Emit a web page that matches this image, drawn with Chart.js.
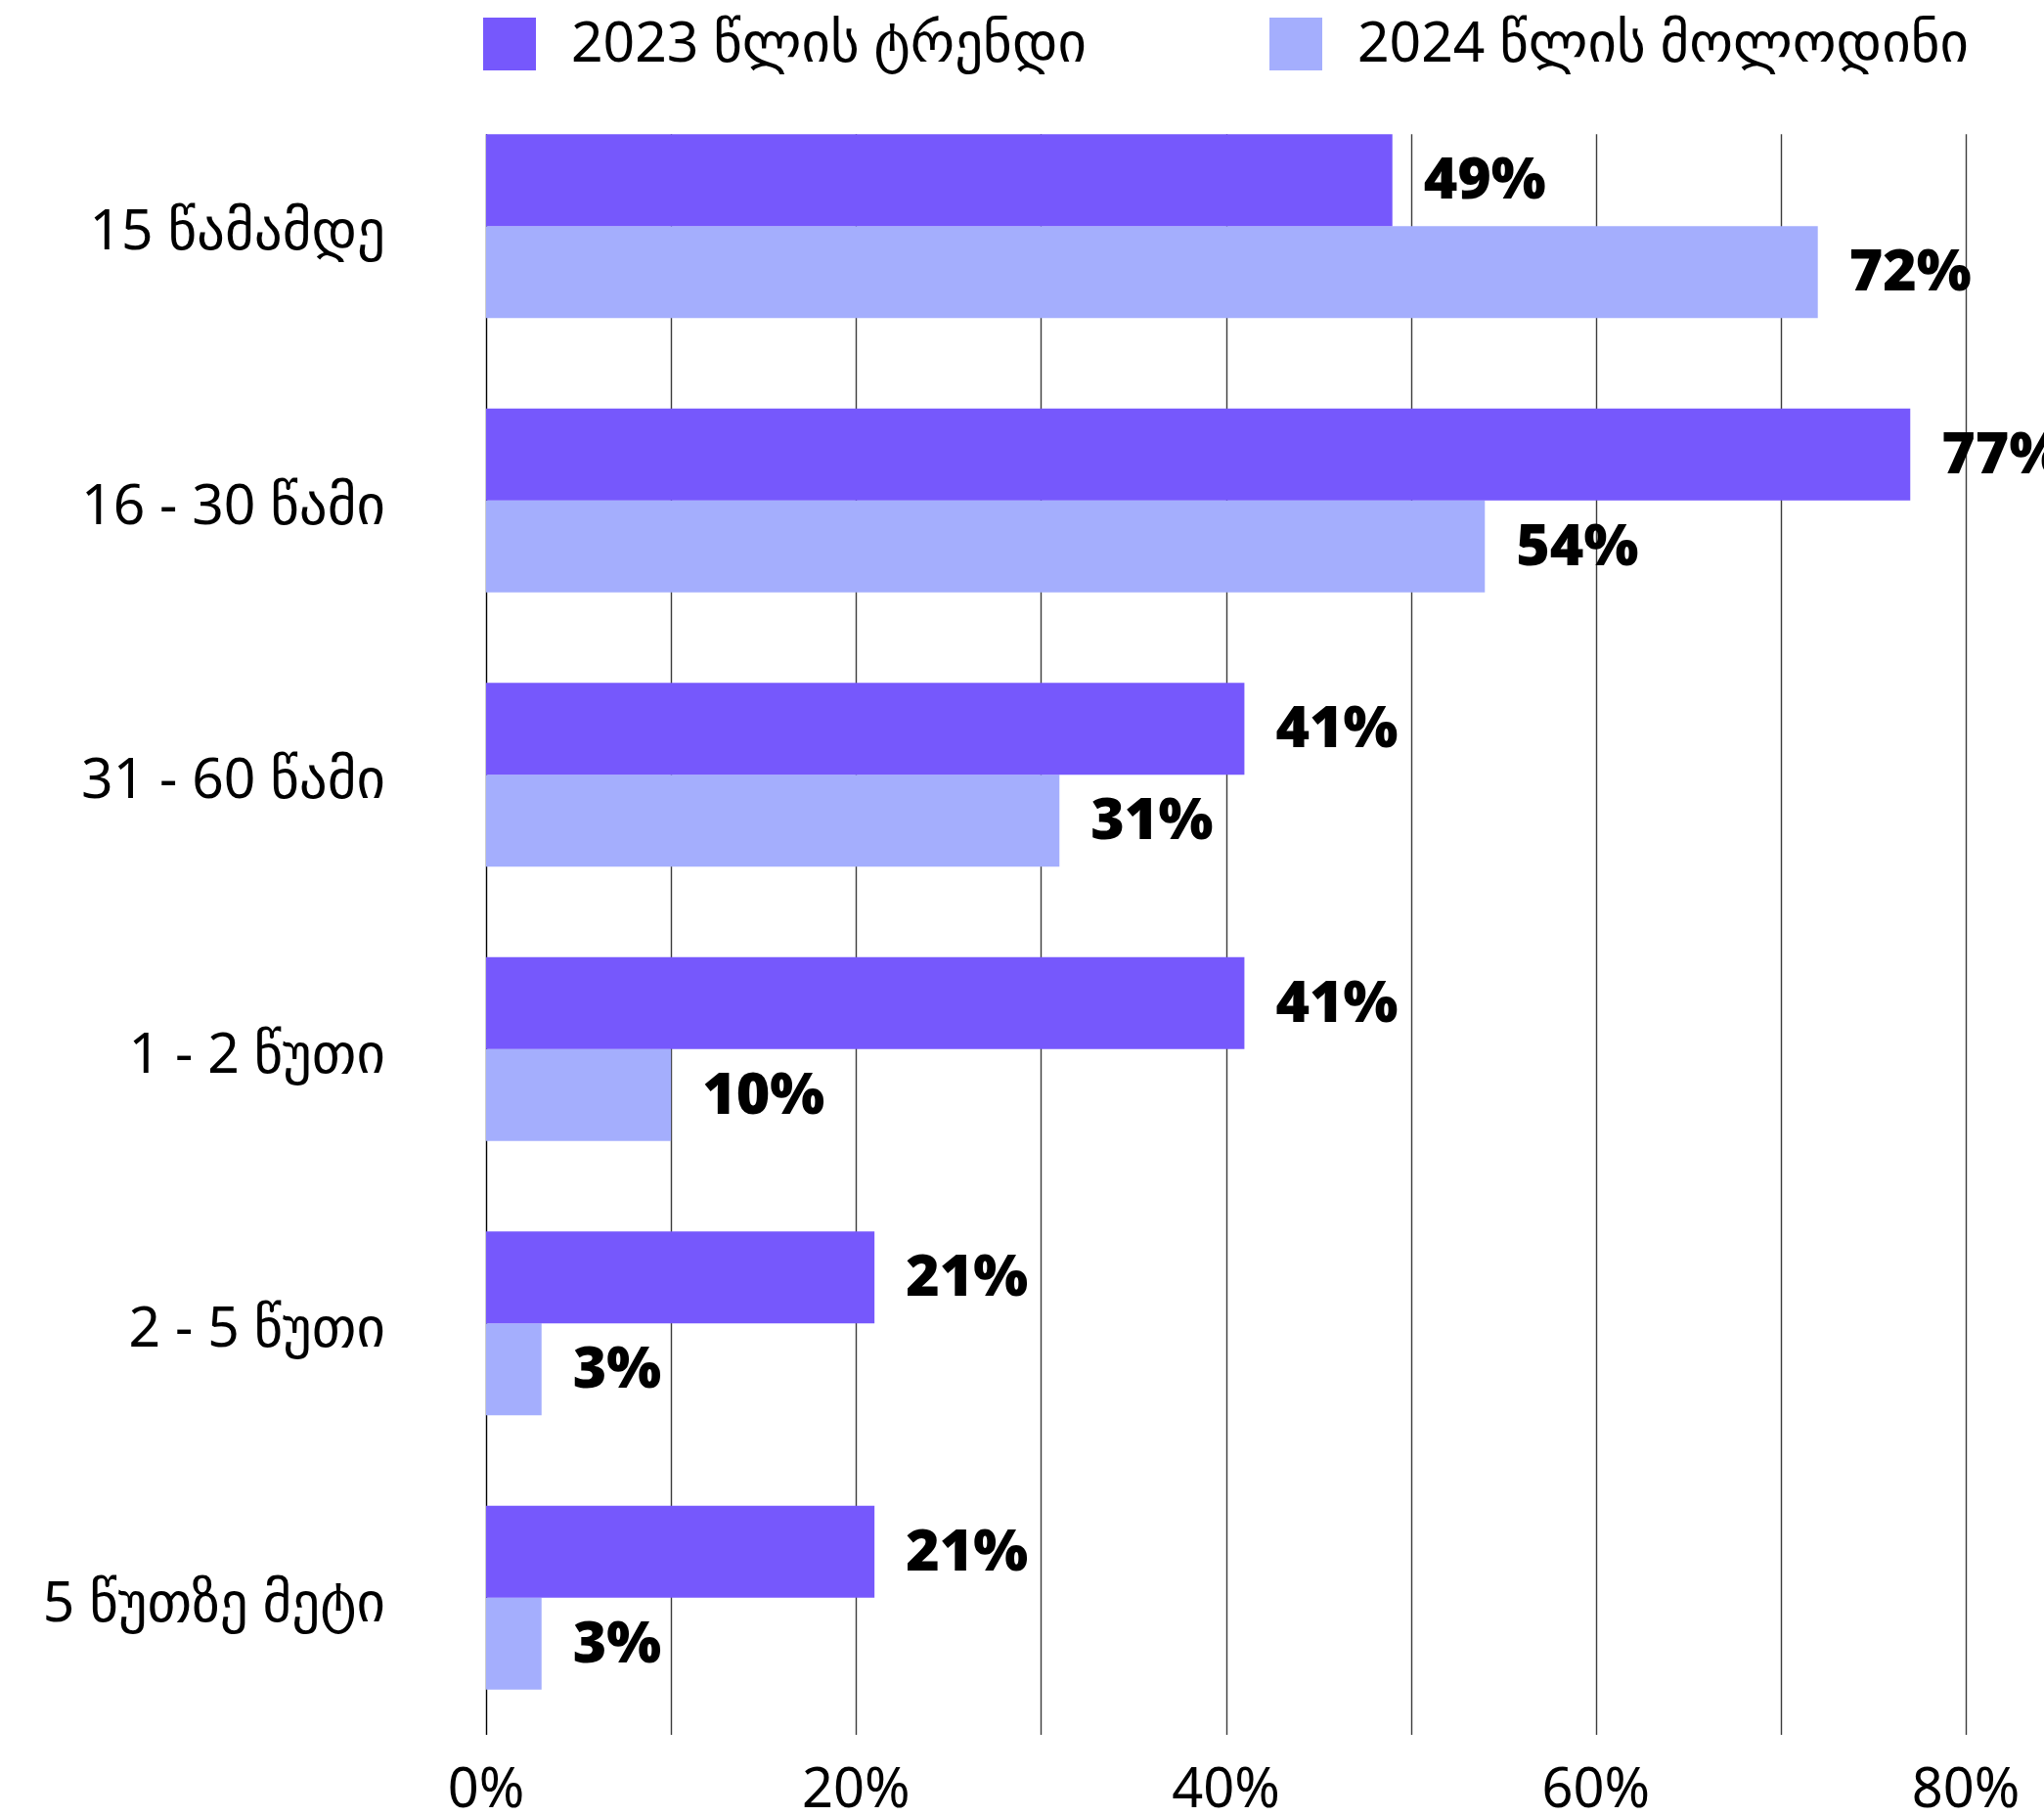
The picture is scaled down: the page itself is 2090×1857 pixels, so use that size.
<!DOCTYPE html>
<html lang="ka">
<head>
<meta charset="utf-8">
<title>ვიდეოს ხანგრძლივობა</title>
<script src="https://cdn.jsdelivr.net/npm/chart.js@4/dist/chart.umd.min.js"></script>
<style>
  html, body { margin: 0; padding: 0; background: #ffffff; }
  #wrap { width: 2090px; height: 1857px; }
</style>
</head>
<body>
<div id="wrap"><canvas id="c" width="2090" height="1857"></canvas></div>
<script>
// Video length buckets
const categories = ['15 წამამდე', '16 - 30 წამი', '31 - 60 წამი', '1 - 2 წუთი', '2 - 5 წუთი', '5 წუთზე მეტი'];
// Share of respondents, %
const trend2023 = [49, 77, 41, 41, 21, 21];
const expect2024 = [72, 54, 31, 10, 3, 3];
const seriesNames = ['2023 წლის ტრენდი', '2024 წლის მოლოდინი'];
const seriesColors = ['#7658FC', '#A4AEFD'];
const xTicks = [0, 10, 20, 30, 40, 50, 60, 70, 80];

const FONT = "'Noto Sans', 'DejaVu Sans', sans-serif";

// Vertical gridlines: from the top of the first bar down to the bottom of the plot
const gridPlugin = {
  id: 'vgrid',
  beforeDatasetsDraw(chart) {
    const { ctx, chartArea, scales } = chart;
    const first = chart.getDatasetMeta(0).data[0];
    const top = first.y - first.height / 2;
    ctx.save();
    xTicks.forEach(v => {
      const x = Math.round(scales.x.getPixelForValue(v)) + 0.5;
      ctx.beginPath();
      ctx.strokeStyle = v === 0 ? '#000000' : '#3c3c3c';
      ctx.lineWidth = 1.4;
      ctx.moveTo(x, top);
      ctx.lineTo(x, chartArea.bottom);
      ctx.stroke();
    });
    ctx.restore();
  }
};

// Value labels at the end of each bar
const valueLabels = {
  id: 'valueLabels',
  afterDatasetsDraw(chart) {
    const { ctx } = chart;
    ctx.save();
    ctx.font = '900 59px ' + FONT;
    ctx.fillStyle = '#000000';
    ctx.textAlign = 'left';
    ctx.textBaseline = 'middle';
    chart.data.datasets.forEach((ds, i) => {
      chart.getDatasetMeta(i).data.forEach((bar, j) => {
        ctx.fillText(ds.data[j] + '%', bar.x + 32, bar.y + 2);
      });
    });
    ctx.restore();
  }
};

// Series key above the plot, centred over the plot area
const topLegend = {
  id: 'topLegend',
  afterDraw(chart) {
    const { ctx, chartArea } = chart;
    const box = 54, gap = 36, between = 187, boxTop = 18, baseline = 63;
    ctx.save();
    ctx.font = '57px ' + FONT;
    const items = chart.data.datasets.map(ds => ({
      text: ds.label,
      color: ds.backgroundColor,
      w: box + gap + ctx.measureText(ds.label).width
    }));
    const total = items.reduce((s, it) => s + it.w, 0) + between * (items.length - 1);
    let x = (chartArea.left + chartArea.right) / 2 - total / 2;
    ctx.textAlign = 'left';
    ctx.textBaseline = 'alphabetic';
    items.forEach(it => {
      ctx.fillStyle = it.color;
      ctx.fillRect(x, boxTop, box, box);
      ctx.fillStyle = '#000000';
      ctx.fillText(it.text, x + box + gap, baseline);
      x += it.w + between;
    });
    ctx.restore();
  }
};

new Chart(document.getElementById('c'), {
  type: 'bar',
  data: {
    labels: categories,
    datasets: [
      { label: seriesNames[0], data: trend2023, backgroundColor: seriesColors[0], borderWidth: 0 },
      { label: seriesNames[1], data: expect2024, backgroundColor: seriesColors[1], borderWidth: 0 }
    ]
  },
  options: {
    indexAxis: 'y',
    responsive: false,
    devicePixelRatio: 1,
    animation: false,
    layout: { padding: { top: 91, right: 80, left: 0, bottom: 0 } },
    datasets: { bar: { categoryPercentage: 0.67, barPercentage: 1.0 } },
    scales: {
      x: {
        min: 0,
        max: 80,
        grid: { display: false },
        border: { display: false },
        afterFit(scale) { scale.height = 83; },
        ticks: {
          stepSize: 10,
          autoSkip: false,
          maxRotation: 0,
          padding: 16,
          color: '#000000',
          font: { family: FONT, size: 56 },
          callback: v => (v % 20 === 0 ? v + '%' : '')
        }
      },
      y: {
        grid: { display: false },
        border: { display: false },
        afterFit(scale) {
          scale.width = 497;
          scale.paddingTop = 0;
          scale.paddingBottom = 0;
        },
        ticks: {
          padding: 95,
          labelOffset: 8,
          color: '#000000',
          font: { family: FONT, size: 57 }
        }
      }
    },
    plugins: {
      legend: { display: false },
      tooltip: { enabled: false }
    }
  },
  plugins: [gridPlugin, valueLabels, topLegend]
});
</script>
</body>
</html>
